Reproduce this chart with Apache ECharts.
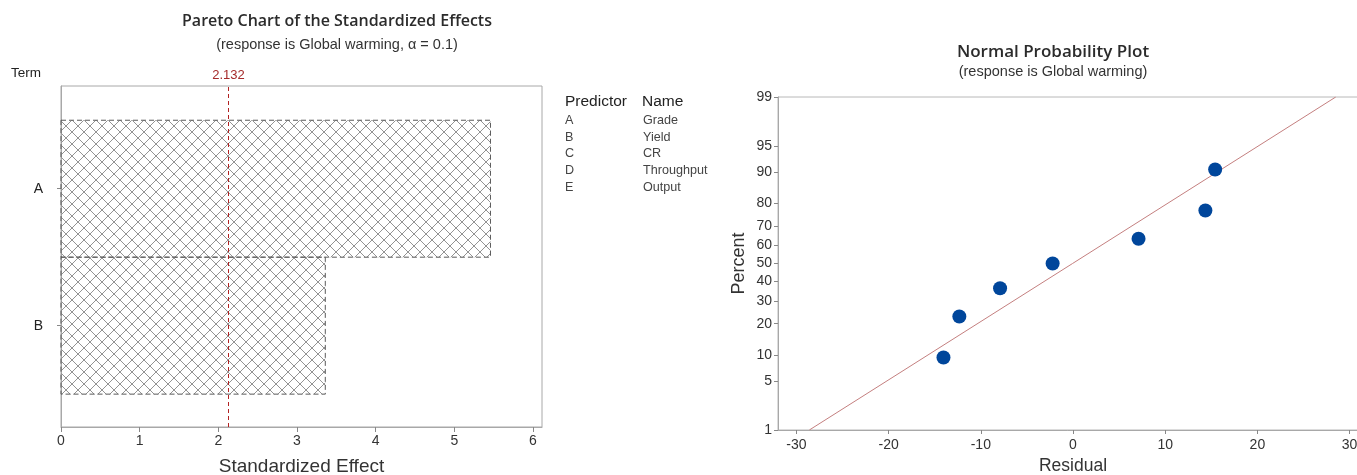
<!DOCTYPE html>
<html>
<head>
<meta charset="utf-8">
<script src="https://cdn.jsdelivr.net/npm/echarts@6/dist/echarts.min.js"></script>
<style>
html,body{margin:0;padding:0;background:#fff;}
#chart{width:1357px;height:475px;}
</style>
</head>
<body>
<div id="chart"></div>
<script>
// ---------- data ----------
const terms = ['A', 'B'];
const termPos = [1, 0];
const effects = [5.46, 3.36];
const criticalValue = 2.132;
const effectTicks = [0, 1, 2, 3, 4, 5, 6];

const predictors = ['A', 'B', 'C', 'D', 'E'];
const predictorNames = ['Grade', 'Yield', 'CR', 'Throughput', 'Output'];

const residuals = [-14.05, -12.33, -7.91, -2.21, 7.11, 14.36, 15.42];
const percents = [9.46, 22.97, 36.49, 50.0, 63.51, 77.03, 90.54];
const fitResidual = [-28.6, 28.5];
const fitPercent = [1, 99];
const percentTicks = [1, 5, 10, 20, 30, 40, 50, 60, 70, 80, 90, 95, 99];
const residualTicks = [-30, -20, -10, 0, 10, 20, 30];

// ---------- probability scale (inverse normal CDF) ----------
function probit(p) {
  const a = [-3.969683028665376e+01, 2.209460984245205e+02, -2.759285104469687e+02, 1.383577518672690e+02, -3.066479806614716e+01, 2.506628277459239e+00];
  const b = [-5.447609879822406e+01, 1.615858368580409e+02, -1.556989798598866e+02, 6.680131188771972e+01, -1.328068155288572e+01];
  const c = [-7.784894002430293e-03, -3.223964580411365e-01, -2.400758277161838e+00, -2.549732539343734e+00, 4.374664141464968e+00, 2.938163982698783e+00];
  const d = [7.784695709041462e-03, 3.224671290700398e-01, 2.445134137142996e+00, 3.754408661907416e+00];
  const pl = 0.02425, ph = 1 - pl;
  let q, r;
  if (p < pl) {
    q = Math.sqrt(-2 * Math.log(p));
    return (((((c[0]*q+c[1])*q+c[2])*q+c[3])*q+c[4])*q+c[5]) / ((((d[0]*q+d[1])*q+d[2])*q+d[3])*q+1);
  } else if (p <= ph) {
    q = p - 0.5; r = q * q;
    return (((((a[0]*r+a[1])*r+a[2])*r+a[3])*r+a[4])*r+a[5])*q / (((((b[0]*r+b[1])*r+b[2])*r+b[3])*r+b[4])*r+1);
  } else {
    q = Math.sqrt(-2 * Math.log(1 - p));
    return -(((((c[0]*q+c[1])*q+c[2])*q+c[3])*q+c[4])*q+c[5]) / ((((d[0]*q+d[1])*q+d[2])*q+d[3])*q+1);
  }
}
const zTicks = percentTicks.map(p => probit(p / 100));
const zMax = probit(0.99);

// ---------- hatch pattern ----------
const hatch = document.createElement('canvas');
hatch.width = 12; hatch.height = 12;
(function () {
  const g = hatch.getContext('2d');
  g.strokeStyle = '#939393';
  g.lineWidth = 1;
  g.beginPath();
  g.moveTo(0, 0); g.lineTo(12, 12);
  g.moveTo(12, 0); g.lineTo(0, 12);
  g.stroke();
})();

const FONT = '"Liberation Sans", Arial, sans-serif';
const TITLEFONT = '"Open Sans", "Noto Sans", sans-serif';

const chart = echarts.init(document.getElementById('chart'));
chart.setOption({
  animation: false,
  backgroundColor: '#fff',
  title: [
    {
      text: 'Pareto Chart of the Standardized Effects',
      subtext: '(response is Global warming, α = 0.1)',
      left: 332, top: 8, textAlign: 'center', itemGap: 8,
      textStyle: { fontFamily: TITLEFONT, fontSize: 16, fontWeight: 600, color: '#2b2b2b' },
      subtextStyle: { fontFamily: FONT, fontSize: 14.5, color: '#333' }
    },
    {
      text: 'Normal Probability Plot',
      subtext: '(response is Global warming)',
      left: 1048, top: 39, textAlign: 'center', itemGap: 3,
      textStyle: { fontFamily: TITLEFONT, fontSize: 17, fontWeight: 600, color: '#2b2b2b' },
      subtextStyle: { fontFamily: FONT, fontSize: 14.5, color: '#333' }
    }
  ],
  graphic: [
    { type: 'text', left: 11, top: 66, style: { text: 'Term', font: '13.5px ' + FONT, fill: '#222' } },
    { type: 'text', left: 565, top: 94, style: { text: 'Predictor', font: '15.5px ' + FONT, fill: '#222' } },
    { type: 'text', left: 642, top: 94, style: { text: 'Name', font: '15.5px ' + FONT, fill: '#222' } },
    { type: 'text', left: 565, top: 112, style: { text: predictors.join('\n'), font: '12.6px ' + FONT, lineHeight: 16.8, fill: '#444' } },
    { type: 'text', left: 643, top: 112, style: { text: predictorNames.join('\n'), font: '12.6px ' + FONT, lineHeight: 16.8, fill: '#444' } }
  ],
  grid: [
    { left: 61, top: 86, width: 481, height: 341, show: true, borderColor: '#a8a8a8', borderWidth: 1, containLabel: false, outerBoundsMode: 'none' },
    { left: 778, top: 97, right: -11, height: 333, show: true, borderColor: '#b8b8b8', borderWidth: 1, containLabel: false, outerBoundsMode: 'none' }
  ],
  xAxis: [
    {
      gridIndex: 0, type: 'value', min: 0, max: 6.115,
      name: 'Standardized Effect', nameLocation: 'middle', nameGap: 30,
      nameTextStyle: { fontFamily: FONT, fontSize: 19, color: '#333' },
      axisLine: { show: true, onZero: false, lineStyle: { color: '#a8a8a8' } },
      axisTick: { show: true, length: 5, lineStyle: { color: '#888' }, customValues: effectTicks },
      axisLabel: { fontFamily: FONT, fontSize: 14, color: '#333', margin: 7, customValues: effectTicks },
      splitLine: { show: false }
    },
    {
      gridIndex: 1, type: 'value', min: -32, max: 32,
      name: 'Residual', nameLocation: 'middle', nameGap: 26,
      nameTextStyle: { fontFamily: FONT, fontSize: 17.5, color: '#333' },
      axisLine: { show: true, onZero: false, lineStyle: { color: '#a8a8a8' } },
      axisTick: { show: true, length: 4, lineStyle: { color: '#888' }, customValues: residualTicks },
      axisLabel: { fontFamily: FONT, fontSize: 14, color: '#333', margin: 8, customValues: residualTicks },
      splitLine: { show: false }
    }
  ],
  yAxis: [
    {
      gridIndex: 0, type: 'value', min: -0.74, max: 1.75,
      axisLine: { show: true, onZero: false, lineStyle: { color: '#a8a8a8' } },
      axisTick: { show: true, length: 4, lineStyle: { color: '#888' }, customValues: termPos },
      axisLabel: {
        fontFamily: FONT, fontSize: 14, color: '#222', margin: 18, customValues: termPos,
        formatter: v => terms[termPos.indexOf(Math.round(v))] || ''
      },
      splitLine: { show: false }
    },
    {
      gridIndex: 1, type: 'value', min: -zMax, max: zMax,
      name: 'Percent', nameLocation: 'middle', nameGap: 30,
      nameTextStyle: { fontFamily: FONT, fontSize: 18, color: '#333' },
      axisLine: { show: true, onZero: false, lineStyle: { color: '#a8a8a8' } },
      axisTick: { show: true, length: 4, lineStyle: { color: '#888' }, customValues: zTicks },
      axisLabel: {
        fontFamily: FONT, fontSize: 14, color: '#333', margin: 6, customValues: zTicks,
        formatter: v => {
          let best = 0;
          zTicks.forEach((z, i) => { if (Math.abs(z - v) < Math.abs(zTicks[best] - v)) best = i; });
          return String(percentTicks[best]);
        }
      },
      splitLine: { show: false }
    }
  ],
  series: [
    {
      type: 'custom',
      xAxisIndex: 0, yAxisIndex: 0,
      data: effects.map((e, i) => [e, termPos[i]]),
      encode: { x: 0, y: 1 },
      renderItem: function (params, api) {
        const v = api.value(0), y = api.value(1);
        const p0 = api.coord([0, y]);
        const p1 = api.coord([v, y]);
        const h = api.size([0, 1])[1];
        return {
          type: 'rect',
          shape: { x: p0[0], y: p0[1] - h / 2, width: p1[0] - p0[0], height: h },
          style: { fill: { image: hatch, repeat: 'repeat' }, stroke: '#5a5a5a', lineWidth: 1, lineDash: [5, 3] }
        };
      },
      markLine: {
        silent: true, symbol: 'none',
        lineStyle: { color: '#b22222', type: [4, 3], width: 1 },
        label: { show: true, position: 'end', formatter: String(criticalValue), color: '#a52a2a', fontFamily: FONT, fontSize: 13, distance: 4 },
        data: [{ xAxis: criticalValue }]
      },
      z: 2
    },
    {
      type: 'line',
      xAxisIndex: 1, yAxisIndex: 1,
      data: fitResidual.map((r, i) => [r, probit(fitPercent[i] / 100)]),
      symbol: 'none',
      lineStyle: { color: '#c47f7f', width: 1 },
      z: 2
    },
    {
      type: 'scatter',
      xAxisIndex: 1, yAxisIndex: 1,
      data: residuals.map((r, i) => [r, probit(percents[i] / 100)]),
      symbolSize: 14,
      itemStyle: { color: '#00469b', opacity: 1 },
      z: 3
    }
  ]
});
</script>
</body>
</html>
